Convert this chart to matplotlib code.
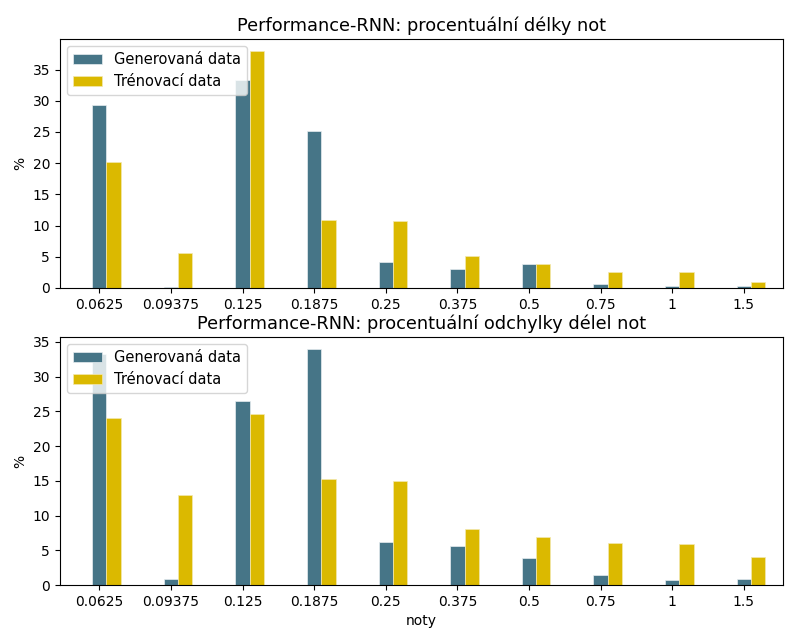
import matplotlib
matplotlib.use('Agg')
import matplotlib.pyplot as plt
import numpy as np

labels = ["0.0625", "0.09375", "0.125", "0.1875", "0.25", "0.375", "0.5", "0.75", "1", "1.5"]

# procentualni delky not
len_gen = [29.3, 0.2, 33.4, 25.1, 4.1, 3.1, 3.8, 0.7, 0.3, 0.3]
len_train = [20.2, 5.6, 38.0, 10.9, 10.8, 5.1, 3.8, 2.6, 2.6, 1.0]

# procentualni odchylky delek not
dev_gen = [33.2, 0.8, 26.5, 34.0, 6.2, 5.6, 3.9, 1.4, 0.7, 0.8]
dev_train = [24.0, 12.9, 24.6, 15.2, 15.0, 8.0, 6.9, 6.0, 5.9, 4.0]

c_gen = '#467587'
c_train = '#dbb900'


def draw(ax, gen, train, title):
    x = np.arange(len(labels))
    w = 0.2
    ax.bar(x, gen, width=w, color=c_gen, edgecolor='#e8eef0', linewidth=0.5, label='Generovaná data')
    ax.bar(x + w, train, width=w, color=c_train, edgecolor='#f3e8b0', linewidth=0.5, label='Trénovací data')
    ax.set_xticks(x)
    ax.set_xticklabels(labels)
    ax.set_xlim(-0.55, 9.55)
    ax.set_ylabel('%')
    ax.set_title(title, fontsize=12.8)
    ax.legend(loc='upper left', fontsize=10.5)


fig = plt.figure(figsize=(7.88, 6.31), dpi=100)
ax1 = fig.add_axes([0.076, 0.5436, 0.918, 0.3946])
ax2 = fig.add_axes([0.076, 0.0729, 0.918, 0.3931])

draw(ax1, len_gen, len_train, 'Performance-RNN: procentuální délky not')
draw(ax2, dev_gen, dev_train, 'Performance-RNN: procentuální odchylky délel not')
ax2.set_xlabel('noty')

plt.savefig('out.png')
plt.close()
